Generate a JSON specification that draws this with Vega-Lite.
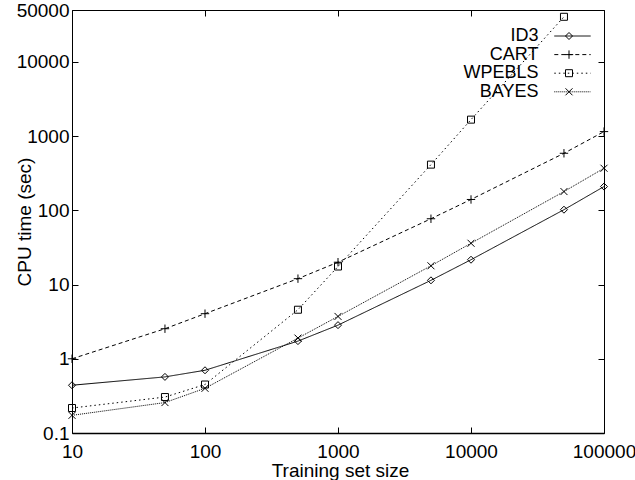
{
  "$schema": "https://vega.github.io/schema/vega-lite/v6.json",
  "width": 532,
  "height": 423,
  "autosize": "none",
  "padding": {"left": 72, "top": 10, "right": 31, "bottom": 47},
  "background": "white",
  "config": {"font": "Liberation Sans", "view": {"stroke": null}},
  "data": {"values": [
    {"algo": "ID3", "n": 10, "t": 0.44},
    {"algo": "ID3", "n": 50, "t": 0.57},
    {"algo": "ID3", "n": 100, "t": 0.70},
    {"algo": "ID3", "n": 500, "t": 1.73},
    {"algo": "ID3", "n": 1000, "t": 2.84},
    {"algo": "ID3", "n": 5000, "t": 11.4},
    {"algo": "ID3", "n": 10000, "t": 21.6},
    {"algo": "ID3", "n": 50000, "t": 102},
    {"algo": "ID3", "n": 100000, "t": 209},
    {"algo": "CART", "n": 10, "t": 1.0},
    {"algo": "CART", "n": 50, "t": 2.54},
    {"algo": "CART", "n": 100, "t": 4.05},
    {"algo": "CART", "n": 500, "t": 12},
    {"algo": "CART", "n": 1000, "t": 20},
    {"algo": "CART", "n": 5000, "t": 77},
    {"algo": "CART", "n": 10000, "t": 140},
    {"algo": "CART", "n": 50000, "t": 587},
    {"algo": "CART", "n": 100000, "t": 1150},
    {"algo": "WPEBLS", "n": 10, "t": 0.217},
    {"algo": "WPEBLS", "n": 50, "t": 0.305},
    {"algo": "WPEBLS", "n": 100, "t": 0.45},
    {"algo": "WPEBLS", "n": 500, "t": 4.58},
    {"algo": "WPEBLS", "n": 1000, "t": 17.5},
    {"algo": "WPEBLS", "n": 5000, "t": 413},
    {"algo": "WPEBLS", "n": 10000, "t": 1667},
    {"algo": "WPEBLS", "n": 50000, "t": 40500},
    {"algo": "BAYES", "n": 10, "t": 0.173},
    {"algo": "BAYES", "n": 50, "t": 0.257},
    {"algo": "BAYES", "n": 100, "t": 0.40},
    {"algo": "BAYES", "n": 500, "t": 1.9},
    {"algo": "BAYES", "n": 1000, "t": 3.72},
    {"algo": "BAYES", "n": 5000, "t": 17.9},
    {"algo": "BAYES", "n": 10000, "t": 36},
    {"algo": "BAYES", "n": 50000, "t": 179},
    {"algo": "BAYES", "n": 100000, "t": 369}
  ]},
  "resolve": {"axis": {"x": "independent", "y": "independent"}},
  "layer": [
    {
      "mark": {"type": "line", "stroke": "black", "strokeWidth": 1, "clip": true},
      "encoding": {
        "x": {"field": "n", "type": "quantitative",
          "scale": {"type": "log", "domain": [10, 100000], "nice": false},
          "axis": {"orient": "bottom", "values": [10, 100, 1000, 10000, 100000], "format": "~g",
            "labelFlush": false, "labelOverlap": false, "grid": false,
            "labelFontSize": 19, "labelColor": "black", "labelPadding": 15,
            "tickSize": -6, "tickColor": "black", "domainColor": "black", "domainWidth": 1.5,
            "title": "Training set size", "titleFontSize": 19, "titleFontWeight": "normal", "titleColor": "black",
            "titleX": 268, "titleY": 43, "titleBaseline": "alphabetic"}},
        "y": {"field": "t", "type": "quantitative",
          "scale": {"type": "log", "domain": [0.1, 50000], "nice": false},
          "axis": {"orient": "left", "values": [0.1, 1, 10, 100, 1000, 10000, 50000], "format": "~g",
            "labelFlush": false, "labelOverlap": false, "grid": false,
            "labelFontSize": 19, "labelColor": "black", "labelPadding": 9,
            "tickSize": -6, "tickColor": "black", "domainColor": "black",
            "title": "CPU time (sec)", "titleFontSize": 19, "titleFontWeight": "normal", "titleColor": "black",
            "titleAngle": -90, "titleX": -42, "titleY": 211.5, "titleBaseline": "alphabetic", "titleAlign": "center"}},
        "strokeDash": {"field": "algo", "type": "nominal", "sort": null,
          "scale": {"range": [[1, 0], [4, 3], [1.5, 3], [1, 1]]},
          "legend": {"orient": "none", "legendX": 491.5, "legendY": 17, "title": null,
            "symbolType": "M-5.2,0H5.2", "symbolSize": 49, "symbolStrokeWidth": 1, "symbolStrokeColor": "black",
            "labelFontSize": 18, "labelColor": "black", "labelAlign": "right", "labelOffset": -43,
            "rowPadding": 0.6, "padding": 0}},
        "detail": {"field": "algo"}
      }
    },
    {
      "mark": {"type": "point", "filled": false, "stroke": "black", "strokeWidth": 1, "size": 49, "opacity": 1},
      "encoding": {
        "x": {"field": "n", "type": "quantitative", "axis": null},
        "y": {"field": "t", "type": "quantitative", "axis": null},
        "shape": {"field": "algo", "type": "nominal",
          "scale": {"domain": ["ID3", "CART", "WPEBLS", "BAYES"],
            "range": ["diamond", "M-1.2,0H1.2M0,-1.2V1.2", "square", "M-1,-1L1,1M-1,1L1,-1"]},
          "legend": {"orient": "none", "legendX": 488, "legendY": 17, "title": null,
            "symbolSize": 49, "symbolStrokeWidth": 1, "symbolStrokeColor": "black", "symbolFillColor": "transparent",
            "labelFontSize": 18, "labelExpr": "''", "rowPadding": 0.6, "padding": 0}}
      }
    },
    {
      "mark": {"type": "point", "opacity": 0},
      "encoding": {
        "x": {"field": "n", "type": "quantitative",
          "axis": {"orient": "top", "values": [10, 100, 1000, 10000, 100000], "labels": false, "title": null,
            "grid": false, "tickSize": -6, "tickColor": "black", "domainColor": "black"}},
        "y": {"field": "t", "type": "quantitative",
          "axis": {"orient": "right", "values": [0.1, 1, 10, 100, 1000, 10000, 50000], "labels": false, "title": null,
            "grid": false, "tickSize": -6, "tickColor": "black", "domainColor": "black"}}
      }
    }
  ]
}
